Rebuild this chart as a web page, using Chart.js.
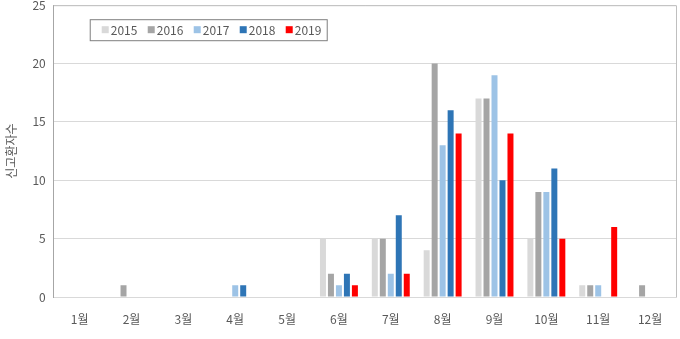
<!DOCTYPE html>
<html>
<head>
<meta charset="utf-8">
<script src="https://cdn.jsdelivr.net/npm/chart.js@4/dist/chart.umd.min.js"></script>
<style>
  html, body { margin: 0; padding: 0; background: #fff; overflow: hidden; }
  #wrap { width: 680px; height: 349px; margin-top: -10px; position: relative; }
</style>
</head>
<body>
<div id="wrap"><canvas id="barChart"></canvas></div>
<script>
  // Monthly reported patients per year
  const months = ["1월", "2월", "3월", "4월", "5월", "6월", "7월", "8월", "9월", "10월", "11월", "12월"];
  const years = ["2015", "2016", "2017", "2018", "2019"];
  const cases2015 = [0, 0, 0, 0, 0, 5, 5, 4, 17, 5, 1, 0];
  const cases2016 = [0, 1, 0, 0, 0, 2, 5, 20, 17, 9, 1, 1];
  const cases2017 = [0, 0, 0, 1, 0, 1, 2, 13, 19, 9, 1, 0];
  const cases2018 = [0, 0, 0, 1, 0, 2, 7, 16, 10, 11, 0, 0];
  const cases2019 = [0, 0, 0, 0, 0, 1, 2, 14, 14, 5, 6, 0];
  const yearColors = ["#d9d9d9", "#a5a5a5", "#9dc3e6", "#2e75b6", "#ff0000"];

  const font = "'Noto Sans CJK KR', 'Noto Sans', sans-serif";
  const textColor = "#595959";

  // border on top/right of the plot area
  const frame = {
    id: "frame",
    beforeDatasetsDraw(chart) {
      const { ctx, chartArea: a } = chart;
      ctx.save();
      ctx.strokeStyle = "#bfbfbf";
      ctx.lineWidth = 1;
      ctx.beginPath();
      ctx.moveTo(a.left, a.top + 0.5);
      ctx.lineTo(a.right + 0.5, a.top + 0.5);
      ctx.lineTo(a.right + 0.5, a.bottom);
      ctx.stroke();
      ctx.restore();
    }
  };

  // legend box drawn inside the plot
  const boxLegend = {
    id: "boxLegend",
    afterDraw(chart) {
      const { ctx, chartArea: a } = chart;
      const x0 = a.left + 36, y0 = a.top + 14, w = 237, h = 21;
      ctx.save();
      ctx.fillStyle = "#fff";
      ctx.fillRect(x0, y0, w, h);
      ctx.strokeStyle = "#7f7f7f";
      ctx.lineWidth = 1;
      ctx.strokeRect(x0 + 0.5, y0 + 0.5, w, h);
      ctx.font = "12px " + font;
      ctx.textBaseline = "middle";
      let x = x0 + 12;
      chart.data.datasets.forEach((ds) => {
        ctx.fillStyle = ds.backgroundColor;
        ctx.fillRect(x, y0 + 7, 7, 7);
        ctx.fillStyle = textColor;
        ctx.fillText(ds.label, x + 9, y0 + 11);
        x += 46;
      });
      ctx.restore();
    }
  };

  const seriesData = [cases2015, cases2016, cases2017, cases2018, cases2019];

  new Chart(document.getElementById("barChart"), {
    type: "bar",
    data: {
      labels: months,
      datasets: years.map((y, i) => ({
        label: y,
        data: seriesData[i],
        backgroundColor: yearColors[i],
        categoryPercentage: 0.77,
        barPercentage: 0.75
      }))
    },
    options: {
      responsive: true,
      maintainAspectRatio: false,
      animation: false,
      layout: { padding: { top: 0, right: 4, bottom: 0, left: 4 } },
      plugins: {
        legend: { display: false },
        tooltip: { enabled: false }
      },
      scales: {
        x: {
          grid: { display: false },
          border: { color: "#d9d9d9" },
          ticks: { color: textColor, font: { family: font, size: 12 }, padding: 7 },
          afterFit(scale) { scale.height = 42; }
        },
        y: {
          min: 0,
          max: 25,
          ticks: { stepSize: 5, color: textColor, font: { family: font, size: 12 }, padding: 8 },
          grid: { color: "#d9d9d9", drawTicks: false },
          border: { color: "#a6a6a6" },
          title: {
            display: true,
            text: "신고환자수",
            color: textColor,
            font: { family: font, size: 12 },
            padding: { top: 0, bottom: 6 }
          }
        }
      }
    },
    plugins: [frame, boxLegend]
  });
</script>
</body>
</html>
